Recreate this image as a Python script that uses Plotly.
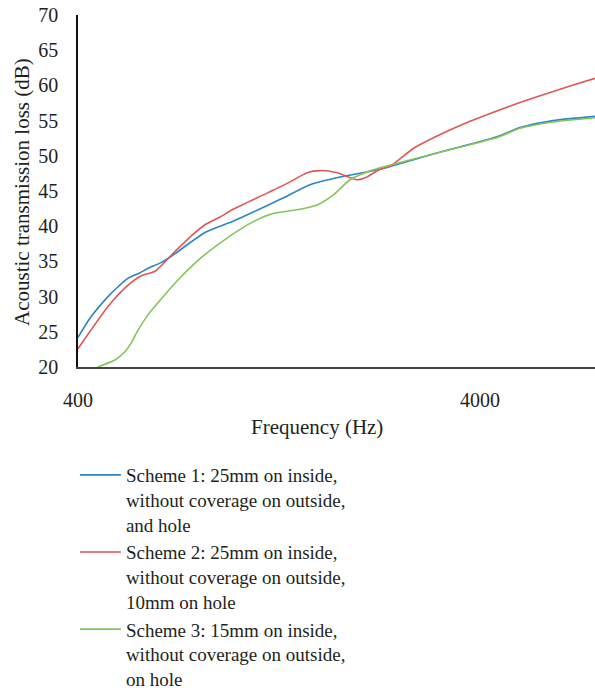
import plotly.graph_objects as go
import math

freq_s1 = [400, 428, 475, 503, 532, 571, 597, 647, 697, 828, 972, 1072, 1294, 1511, 1794, 2256, 3126, 4409, 5032, 6077, 7729]
tl_s1 = [24.2, 26.9, 30.0, 31.4, 32.6, 33.4, 34.0, 34.9, 36.1, 39.1, 40.7, 41.8, 44.0, 45.9, 47.0, 48.1, 50.4, 52.7, 54.0, 55.0, 55.6]

freq_s2 = [400, 475, 532, 577, 622, 697, 768, 828, 902, 972, 1181, 1348, 1485, 1600, 1764, 1977, 2094, 2256, 2389, 2725, 3126, 3777, 4563, 5544, 6697, 7729]
tl_s2 = [22.6, 28.6, 31.6, 33.0, 33.6, 36.4, 38.7, 40.2, 41.3, 42.4, 44.7, 46.3, 47.6, 47.9, 47.6, 46.6, 47.0, 48.1, 48.5, 51.0, 52.8, 54.9, 56.7, 58.4, 59.9, 61.0]

freq_s3 = [448, 494, 524, 545, 561, 597, 647, 710, 805, 902, 1072, 1222, 1427, 1573, 1724, 1900, 2094, 2256, 3126, 4409, 5032, 6077, 7729]
tl_s3 = [20.0, 21.0, 22.2, 23.6, 25.0, 27.4, 29.8, 32.4, 35.4, 37.6, 40.4, 41.8, 42.4, 43.0, 44.4, 46.6, 47.7, 48.3, 50.4, 52.6, 53.9, 54.8, 55.4]

names = [
    "Scheme 1: 25mm on inside,<br>without coverage on outside,<br>and hole",
    "Scheme 2: 25mm on inside,<br>without coverage on outside,<br>10mm on hole",
    "Scheme 3: 15mm on inside,<br>without coverage on outside,<br>on hole",
]
colors = ["#2b86c5", "#e05656", "#86c35a"]

x_ticks = [400, 4000]
y_ticks = [20, 25, 30, 35, 40, 45, 50, 55, 60, 65, 70]

FONT = "Liberation Serif"
TXT = "#231f20"
fig = go.Figure()
for fx, ty, nm, c in [(freq_s1, tl_s1, names[0], colors[0]),
                      (freq_s2, tl_s2, names[1], colors[1]),
                      (freq_s3, tl_s3, names[2], colors[2])]:
    fig.add_trace(go.Scatter(x=fx, y=ty, name=nm, mode="lines",
                             line=dict(color=c, width=1.6, shape="spline", smoothing=0.6)))

fig.update_layout(
    width=595, height=697,
    margin=dict(l=78, r=0, t=15, b=330, autoexpand=False),
    paper_bgcolor="white", plot_bgcolor="white",
    font=dict(family=FONT, size=20, color=TXT),
    showlegend=True,
    legend=dict(x=-0.006, y=-0.253, xanchor="left", yanchor="top",
                valign="top", tracegroupgap=3, itemwidth=41,
                font=dict(family=FONT, size=19, color=TXT)),
    xaxis=dict(type="log", range=[math.log10(400), math.log10(7729)],
               tickvals=x_ticks, ticktext=[str(v) for v in x_ticks],
               showgrid=False, zeroline=False, showline=True,
               linecolor="#444", linewidth=2, ticks="", ticklabelstandoff=14),
    yaxis=dict(range=[20, 70], tickvals=y_ticks,
               showgrid=False, zeroline=False, showline=True,
               linecolor="#111", linewidth=1.6, ticks="", ticklabelstandoff=14),
    annotations=[
        dict(text="Frequency (Hz)", xref="paper", yref="paper",
             x=(317 - 78) / 517, y=-(427 - 367) / 352, showarrow=False,
             xanchor="center", yanchor="middle", font=dict(family=FONT, size=21, color=TXT)),
        dict(text="Acoustic transmission loss (dB)", xref="paper", yref="paper",
             x=(22 - 78) / 517, y=(367 - 192) / 352, showarrow=False, textangle=-90,
             xanchor="center", yanchor="middle", font=dict(family=FONT, size=21, color=TXT)),
    ],
)
fig.write_html("out.html")
